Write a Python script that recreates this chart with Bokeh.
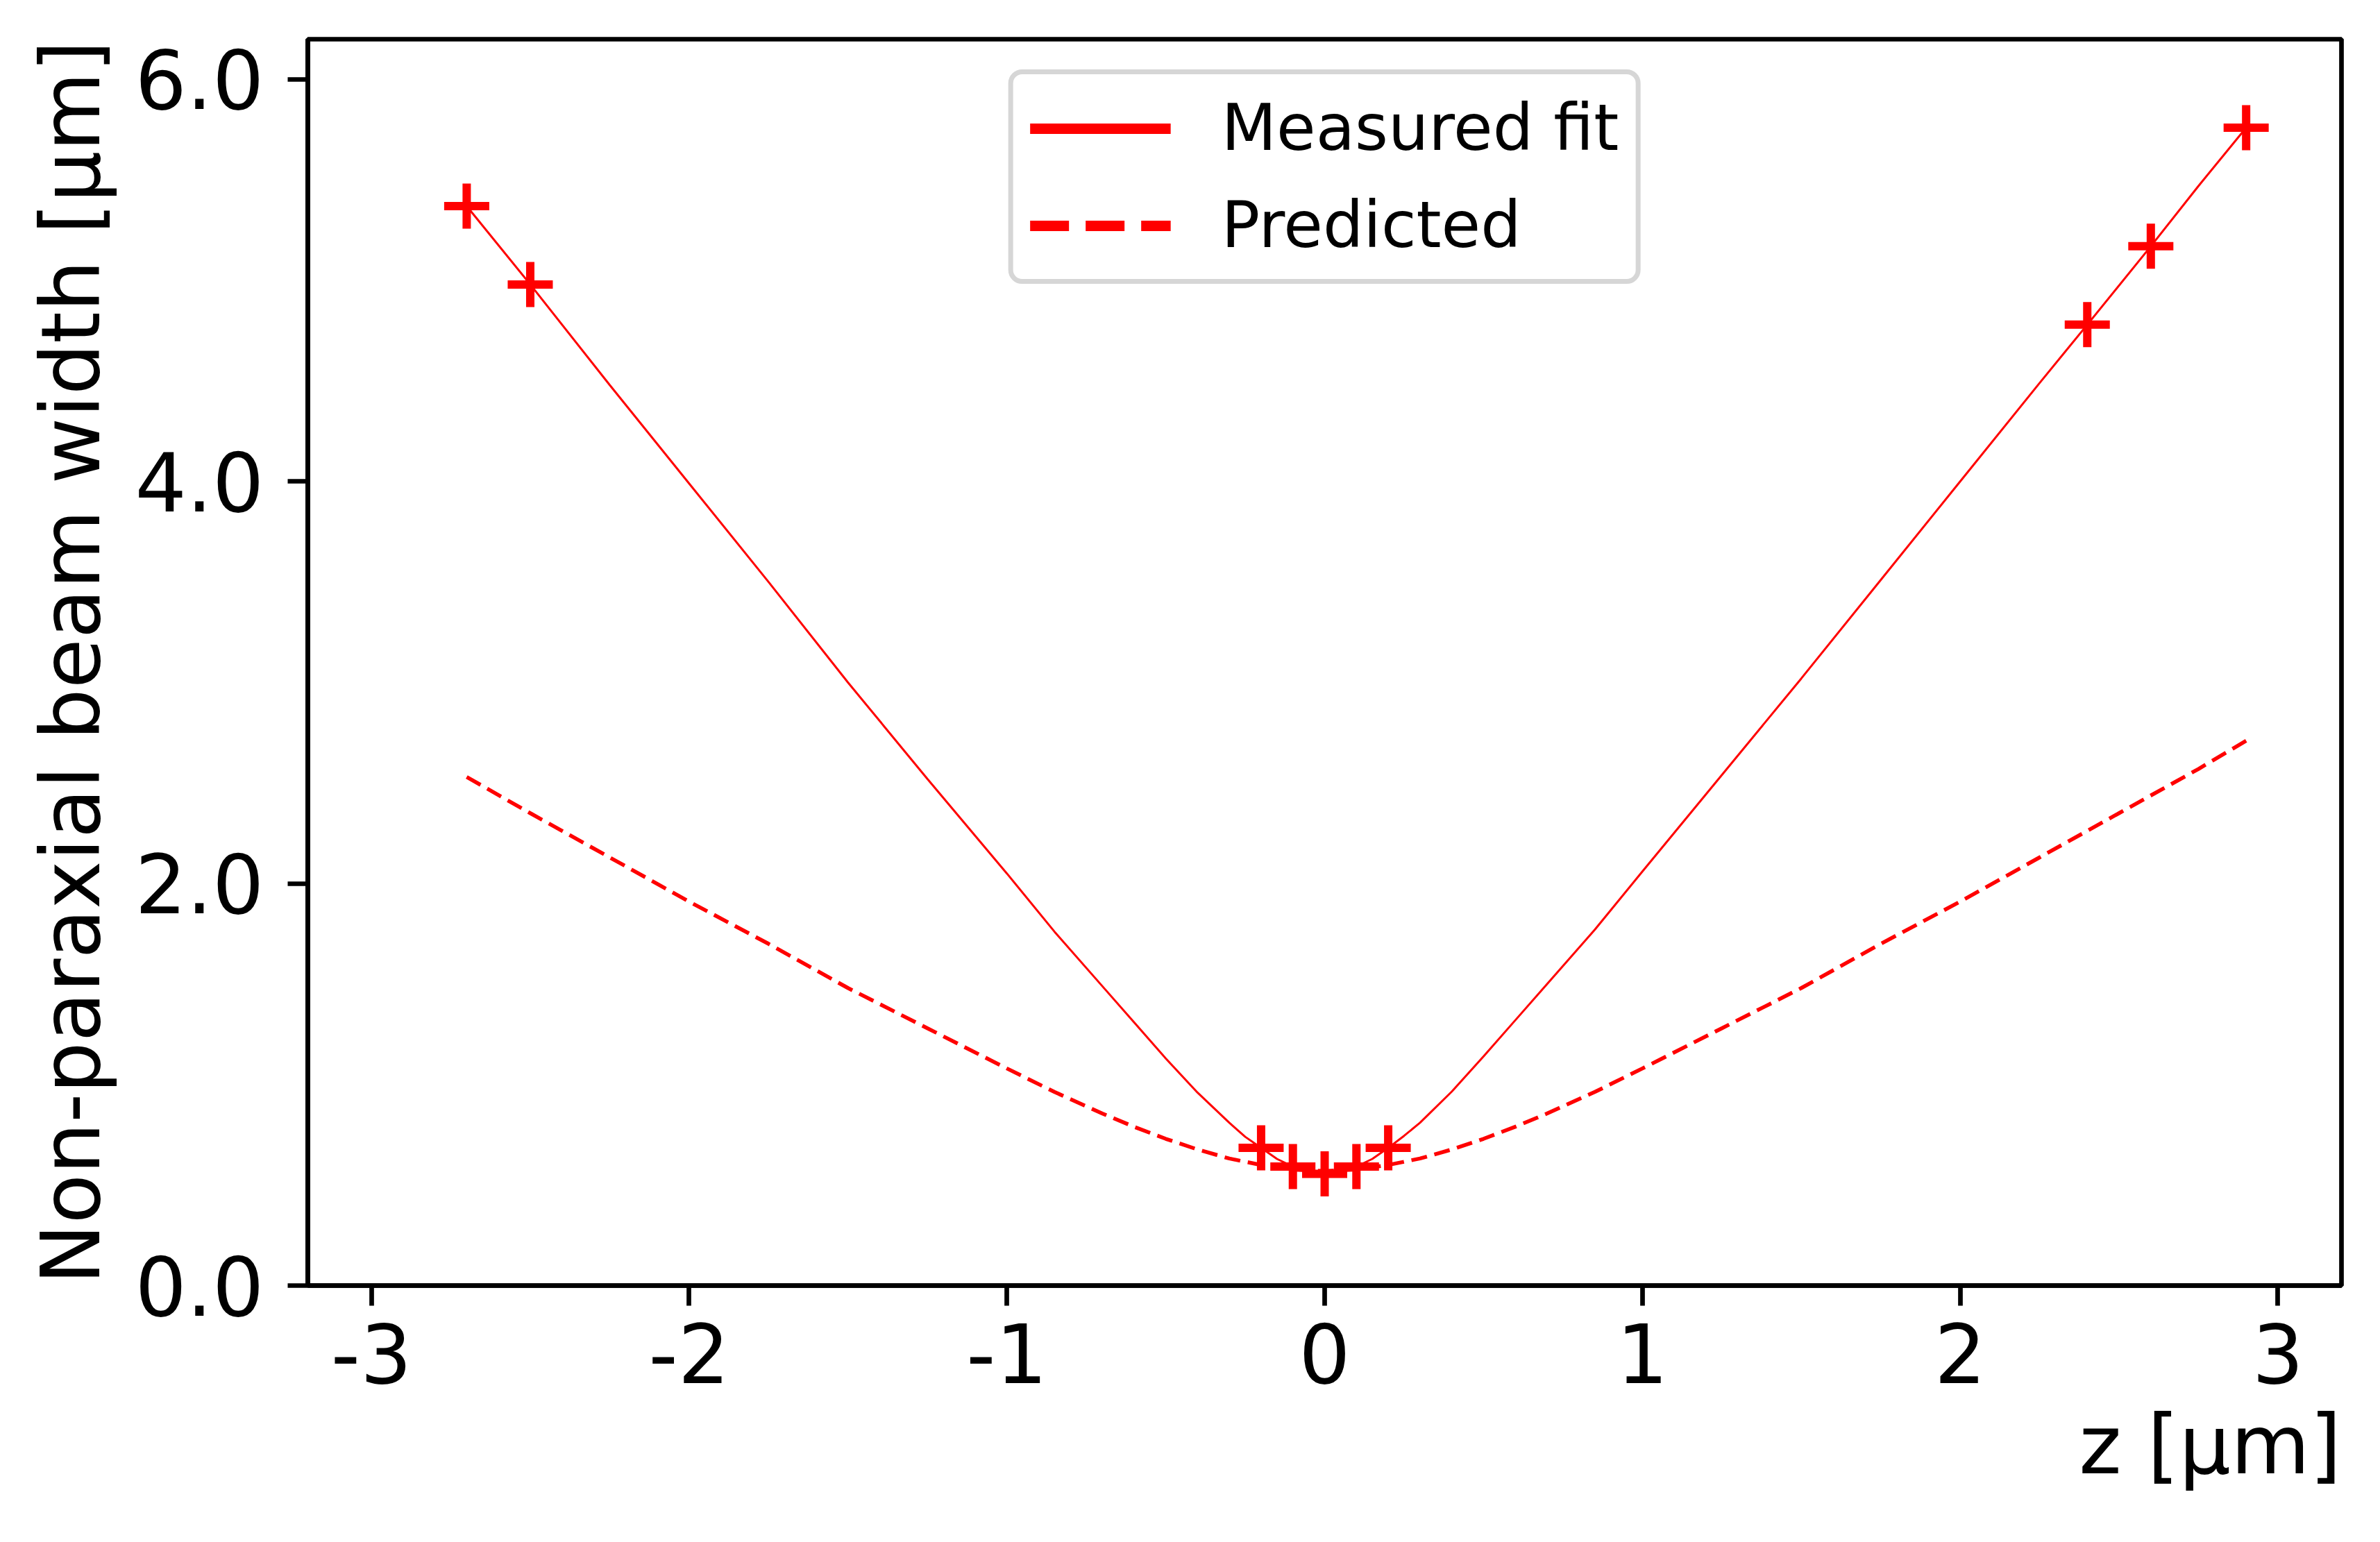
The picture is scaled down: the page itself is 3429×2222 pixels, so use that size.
from bokeh.plotting import figure
from bokeh.models import Range1d, FixedTicker, Legend, LegendItem, Title
from bokeh.embed import file_html
from bokeh.resources import INLINE

# ---- data ----
meas_z = [-2.7, -2.5, -0.2, -0.1, 0.0, 0.1, 0.2, 2.4, 2.6, 2.9]
meas_w = [5.37, 4.98, 0.685, 0.592, 0.556, 0.592, 0.685, 4.78, 5.17, 5.76]

fit_z = [-2.7, -2.5, -2.25, -2.0, -1.75, -1.5, -1.25, -1.0, -0.85, -0.7, -0.6,
         -0.5, -0.4, -0.3, -0.25, -0.2, -0.15, -0.1, -0.05, 0.0,
         0.05, 0.1, 0.15, 0.2, 0.25, 0.3, 0.4, 0.5, 0.6, 0.7, 0.85,
         1.0, 1.25, 1.5, 1.75, 2.0, 2.25, 2.4, 2.6, 2.75, 2.9]
fit_w = [5.37, 4.98, 4.48, 3.99, 3.50, 3.00, 2.52, 2.05, 1.76, 1.49, 1.31,
         1.13, 0.96, 0.81, 0.74, 0.685, 0.63, 0.592, 0.565, 0.556,
         0.565, 0.592, 0.63, 0.685, 0.745, 0.81, 0.965, 1.14, 1.32, 1.50, 1.77,
         2.06, 2.54, 3.02, 3.51, 4.00, 4.49, 4.78, 5.17, 5.47, 5.76]

pred_z = [-2.7, -2.5, -2.25, -2.0, -1.75, -1.5, -1.25, -1.0, -0.85, -0.7, -0.6,
          -0.5, -0.4, -0.3, -0.2, -0.1, 0.0, 0.1, 0.2, 0.3, 0.4, 0.5, 0.6,
          0.7, 0.85, 1.0, 1.25, 1.5, 1.75, 2.0, 2.25, 2.5, 2.75, 2.9]
pred_w = [2.53, 2.35, 2.13, 1.91, 1.70, 1.48, 1.28, 1.08, 0.963, 0.856, 0.79,
          0.73, 0.677, 0.632, 0.60, 0.577, 0.57, 0.577, 0.60, 0.632, 0.677, 0.73, 0.79,
          0.856, 0.963, 1.08, 1.28, 1.48, 1.70, 1.91, 2.13, 2.35, 2.57, 2.71]

x_ticks = [-3, -2, -1, 0, 1, 2, 3]
x_tick_labels = ["-3", "-2", "-1", "0", "1", "2", "3"]
y_ticks = [0, 2, 4, 6]
y_tick_labels = ["0.0", "2.0", "4.0", "6.0"]

legend_labels = ["Measured fit", "Predicted"]
x_label = "z [μm]"
y_label = "Non-paraxial beam width [μm]"

FONT = "DejaVu Sans"
RED = "#ff0000"
LW = 6.7
NAN = float("nan")

p = figure(width=3429, height=2222,
           x_range=Range1d(-3.2, 3.2), y_range=Range1d(0.0, 6.2),
           output_backend="svg", toolbar_location=None,
           min_border_left=443, min_border_right=56,
           min_border_top=56, min_border_bottom=370)
p.background_fill_color = "white"
p.border_fill_color = "white"
p.xgrid.visible = False
p.ygrid.visible = False
p.outline_line_color = "black"
p.outline_line_width = LW
p.outline_line_alpha = 1.0

for ax in (p.xaxis[0], p.yaxis[0]):
    ax.axis_line_width = LW
    ax.axis_line_color = "black"
    ax.major_tick_line_width = LW
    ax.major_tick_line_color = "black"
    ax.major_tick_out = 29
    ax.major_tick_in = 0
    ax.minor_tick_out = 0
    ax.minor_tick_in = 0
    ax.major_label_text_font = FONT
    ax.major_label_text_font_size = "117px"
    ax.major_label_text_color = "black"
    ax.axis_label_text_font = FONT
    ax.axis_label_text_font_size = "117px"
    ax.axis_label_text_font_style = "normal"
    ax.axis_label_text_color = "black"

p.xaxis.ticker = FixedTicker(ticks=x_ticks)
p.xaxis.major_label_overrides = dict(zip(x_ticks, x_tick_labels))
p.xaxis.major_label_standoff = 25
p.yaxis.ticker = FixedTicker(ticks=y_ticks)
p.yaxis.major_label_overrides = dict(zip(y_ticks, y_tick_labels))
p.yaxis.major_label_standoff = 34
p.yaxis.axis_label = y_label
p.yaxis.axis_label_standoff = 20

# x-axis title, right-aligned with the right end of the axis
p.add_layout(Title(text=x_label, align="right", text_font=FONT,
                   text_font_size="117px", text_font_style="normal",
                   text_color="black", standoff=33, offset=0), "below")

fit_r = p.line(fit_z, fit_w, line_color=RED, line_width=3)
pred_r = p.line(pred_z, pred_w, line_color=RED, line_width=5.5, line_dash="23 11")
pts_r = p.scatter(meas_z, meas_w, marker="cross", size=65,
                  line_color=RED, line_width=12)

# legend proxies (no visible data, thicker strokes as in the reference legend)
leg_fit = p.line([NAN], [NAN], line_color=RED, line_width=15)
leg_pred = p.line([NAN], [NAN], line_color=RED, line_width=15, line_dash="56 24")

legend = Legend(items=[LegendItem(label=legend_labels[0], renderers=[leg_fit]),
                       LegendItem(label=legend_labels[1], renderers=[leg_pred])],
                location="top_center", orientation="vertical",
                label_text_font=FONT, label_text_font_size="92px",
                label_text_color="black",
                glyph_width=203, glyph_height=100, label_height=100,
                label_standoff=73, padding=24, spacing=33, margin=44,
                border_line_color="#d6d6d6", border_line_width=7,
                border_line_alpha=1.0,
                background_fill_color="white", background_fill_alpha=1.0)
if "border_radius" in legend.properties():
    legend.border_radius = 20
p.add_layout(legend)

open("out.html", "w").write(file_html(p, INLINE))
